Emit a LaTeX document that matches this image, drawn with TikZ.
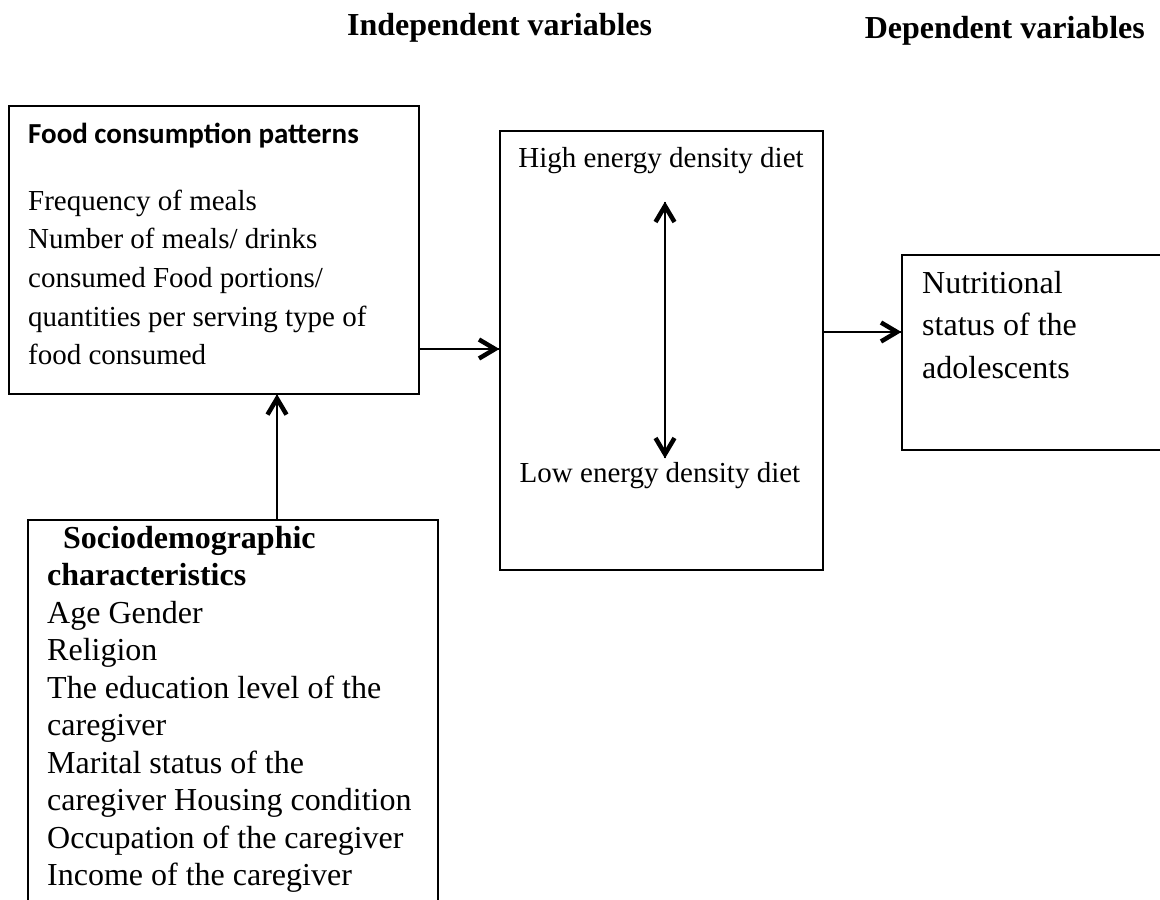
\documentclass[tikz,border=0pt]{standalone}
\usepackage{fontspec}
\setmainfont{Liberation Serif}
\newfontfamily\calfont{Carlito}
\usetikzlibrary{calc}
\tikzset{
  box/.style={draw=black, line width=1.6pt, rectangle, inner sep=0pt, anchor=north west},
  txt/.style={inner sep=0pt, anchor=base west},
  ctxt/.style={inner sep=0pt, anchor=base},
  conn/.style={line width=1.6pt},
  chev/.style={line width=4.5pt, line cap=butt, line join=miter},
  head/.style={inner sep=0pt, font=\fontsize{32}{36}\selectfont\bfseries}
}
\begin{document}
\begin{tikzpicture}[x=1pt,y=-1pt]
\useasboundingbox[fill=white] (0,0) rectangle (1160,900);
% headings
\node[head, anchor=base west] (indep) at (347,35) {Independent variables};
\node[head, anchor=base east] (dep) at (1145,38) {Dependent variables};
% boxes
\node[box, minimum width=410pt, minimum height=288pt] (fcp) at (8,105) {};
\node[box, minimum width=323pt, minimum height=439pt] (mid) at (499,130) {};
\node[box, minimum width=270pt, minimum height=195pt] (nut) at (901,254) {};
\node[box, minimum width=410pt, minimum height=400pt] (soc) at (27,519) {};
% box 1 text
\node[txt] (fcph) at (28,143) {\calfont\bfseries\fontsize{29}{35}\selectfont Food consumption patterns};
\node[txt] (fcpt) at (28,210) {\fontsize{29}{38.7}\selectfont\begin{tabular}[t]{@{}l@{}}
Frequency of meals\\
Number of meals/ drinks\\
consumed Food portions/\\
quantities per serving type of\\
food consumed\end{tabular}};
% middle box text
\node[ctxt] (high) at (661,167) {\fontsize{29}{35}\selectfont High energy density diet};
\node[ctxt] (low) at (660,482) {\fontsize{29}{35}\selectfont Low energy density diet};
% box 3 text
\node[txt] (nutt) at (922,293) {\fontsize{32}{42.5}\selectfont\begin{tabular}[t]{@{}l@{}}
Nutritional\\
status of the\\
adolescents\end{tabular}};
% box 4 text
\node[txt] (soct) at (47,548) {\fontsize{32}{37.5}\selectfont\begin{tabular}[t]{@{}l@{}}
\hspace{16pt}\textbf{Sociodemographic}\\
\textbf{characteristics}\\
Age Gender\\
Religion\\
The education level of the\\
caregiver\\
Marital status of the\\
caregiver Housing condition\\
Occupation of the caregiver\\
Income of the caregiver\end{tabular}};
% connectors
\coordinate (a1) at (fcp.east |- 0,349);
\coordinate (a2) at (mid.west |- 0,349);
\draw[conn] (a1) -- (a2);
\draw[chev] ($(a2)+(-20,-9.5)$) -- ($(a2)+(-4,0)$) -- ($(a2)+(-20,9.5)$);
\coordinate (b1) at (mid.east |- 0,332);
\coordinate (b2) at (nut.west |- 0,332);
\draw[conn] (b1) -- (b2);
\draw[chev] ($(b2)+(-20,-9.5)$) -- ($(b2)+(-4,0)$) -- ($(b2)+(-20,9.5)$);
\coordinate (c1) at (soc.north west -| 277,0);
\coordinate (c2) at (fcp.south west -| 277,0);
\draw[conn] (c1) -- (c2);
\draw[chev] ($(c2)+(-9.5,20)$) -- ($(c2)+(0,4)$) -- ($(c2)+(9.5,20)$);
\coordinate (d1) at (665,202);
\coordinate (d2) at (665,458);
\draw[conn] (d1) -- (d2);
\draw[chev] ($(d1)+(-9.5,20)$) -- ($(d1)+(0,4)$) -- ($(d1)+(9.5,20)$);
\draw[chev] ($(d2)+(-9.5,-20)$) -- ($(d2)+(0,-4)$) -- ($(d2)+(9.5,-20)$);
\end{tikzpicture}
\end{document}
